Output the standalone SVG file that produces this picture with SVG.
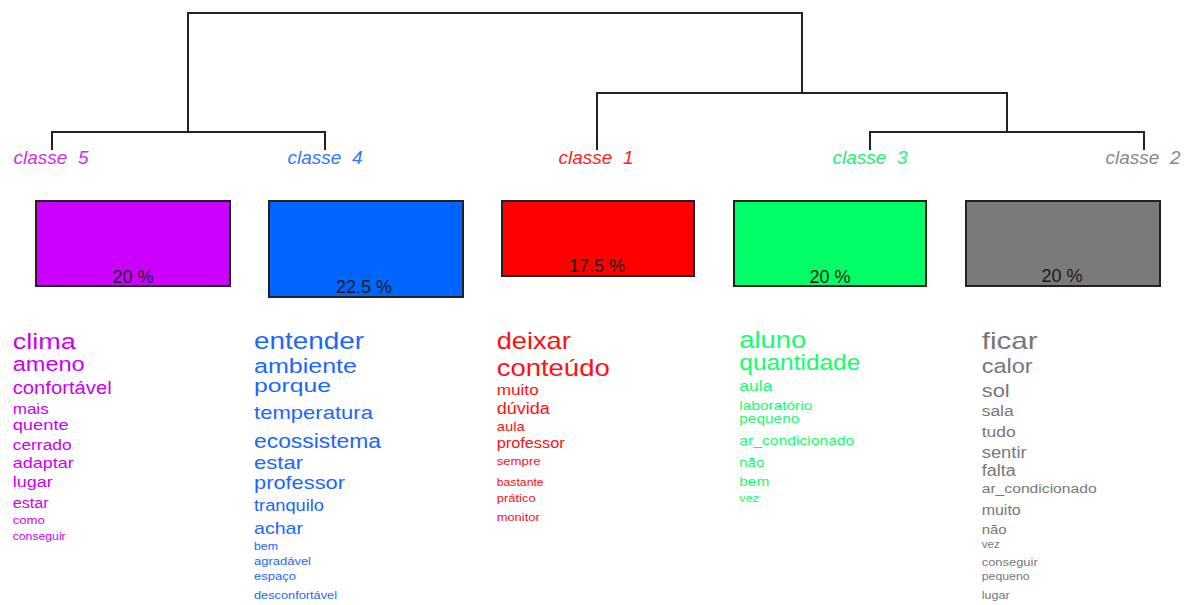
<svg xmlns="http://www.w3.org/2000/svg" width="1189" height="605" viewBox="0 0 1189 605">
<style>
text{font-family:"Liberation Sans",Arial,sans-serif}
.lbl{font-size:19px;font-style:italic;text-anchor:middle;white-space:pre}
.pct{font-size:18px;fill:#1a1a1a;text-anchor:middle}
.box{stroke:#222;stroke-width:2}
.edge{fill:none;stroke:#222;stroke-width:2}
.c5{fill:#cc00ee}.c4{fill:#1a66ff}.c1{fill:#ff1010}.c3{fill:#11ff6a}.c2{fill:#777}
</style>
<rect width="1189" height="605" fill="#fff"/>
<g id="connectors">
<path class="edge" d="M188,132 V13 H802 V93"/>
<path class="edge" d="M52,150 V132 H325 V150"/>
<path class="edge" d="M597,150 V93 H1007 V132"/>
<path class="edge" d="M870,150 V132 H1144 V150"/>
</g>
<g id="classe5">
<text class="lbl" x="51" y="164" fill="#cc33dd">classe  5</text>
<rect class="box" x="36" y="201" width="194" height="85" fill="#cc00ff"/>
<text class="pct" x="133" y="282.5">20 %</text>
<g class="c5">
<text x="12.7" y="348.5" font-size="22" textLength="63" lengthAdjust="spacingAndGlyphs">clima</text>
<text x="12.7" y="370.5" font-size="19.5" textLength="72" lengthAdjust="spacingAndGlyphs">ameno</text>
<text x="12.7" y="394" font-size="18" textLength="99" lengthAdjust="spacingAndGlyphs">confortável</text>
<text x="12.7" y="414" font-size="15" textLength="36" lengthAdjust="spacingAndGlyphs">mais</text>
<text x="12.7" y="429.5" font-size="14" textLength="56" lengthAdjust="spacingAndGlyphs">quente</text>
<text x="12.7" y="450" font-size="14" textLength="59" lengthAdjust="spacingAndGlyphs">cerrado</text>
<text x="12.7" y="468" font-size="14.5" textLength="61" lengthAdjust="spacingAndGlyphs">adaptar</text>
<text x="12.7" y="487" font-size="15.5" textLength="40" lengthAdjust="spacingAndGlyphs">lugar</text>
<text x="12.7" y="508" font-size="14" textLength="36" lengthAdjust="spacingAndGlyphs">estar</text>
<text x="12.7" y="524" font-size="11" textLength="32" lengthAdjust="spacingAndGlyphs">como</text>
<text x="12.7" y="540" font-size="10.5" textLength="53" lengthAdjust="spacingAndGlyphs">conseguir</text>
</g>
</g>
<g id="classe4">
<text class="lbl" x="325" y="164" fill="#3377ff">classe  4</text>
<rect class="box" x="269" y="201" width="194" height="96" fill="#0066ff"/>
<text class="pct" x="364" y="293">22.5 %</text>
<g class="c4">
<text x="254" y="349.3" font-size="24" textLength="110" lengthAdjust="spacingAndGlyphs">entender</text>
<text x="254" y="372.5" font-size="19.5" textLength="103" lengthAdjust="spacingAndGlyphs">ambiente</text>
<text x="254" y="392" font-size="18.5" textLength="77" lengthAdjust="spacingAndGlyphs">porque</text>
<text x="254" y="419.3" font-size="19" textLength="119" lengthAdjust="spacingAndGlyphs">temperatura</text>
<text x="254" y="447.7" font-size="20" textLength="127" lengthAdjust="spacingAndGlyphs">ecossistema</text>
<text x="254" y="469.3" font-size="19" textLength="49" lengthAdjust="spacingAndGlyphs">estar</text>
<text x="254" y="489.3" font-size="19" textLength="91" lengthAdjust="spacingAndGlyphs">professor</text>
<text x="254" y="510.7" font-size="16" textLength="70" lengthAdjust="spacingAndGlyphs">tranquilo</text>
<text x="254" y="534" font-size="17" textLength="49" lengthAdjust="spacingAndGlyphs">achar</text>
<text x="254" y="550" font-size="11" textLength="24" lengthAdjust="spacingAndGlyphs">bem</text>
<text x="254" y="565" font-size="11.3" textLength="57" lengthAdjust="spacingAndGlyphs">agradável</text>
<text x="254" y="580" font-size="11.3" textLength="42" lengthAdjust="spacingAndGlyphs">espaço</text>
<text x="254" y="599.3" font-size="11.1" textLength="83" lengthAdjust="spacingAndGlyphs">desconfortável</text>
</g>
</g>
<g id="classe1">
<text class="lbl" x="596" y="164" fill="#ff2222">classe  1</text>
<rect class="box" x="502" y="201" width="192" height="75" fill="#ff0000"/>
<text class="pct" x="597" y="272">17.5 %</text>
<g class="c1">
<text x="496.7" y="349.3" font-size="23.6" textLength="74" lengthAdjust="spacingAndGlyphs">deixar</text>
<text x="496.7" y="376" font-size="24" textLength="113" lengthAdjust="spacingAndGlyphs">conteúdo</text>
<text x="496.7" y="395" font-size="15" textLength="42" lengthAdjust="spacingAndGlyphs">muito</text>
<text x="496.7" y="414" font-size="15.6" textLength="53" lengthAdjust="spacingAndGlyphs">dúvida</text>
<text x="496.7" y="430.7" font-size="13" textLength="28" lengthAdjust="spacingAndGlyphs">aula</text>
<text x="496.7" y="448.3" font-size="14.2" textLength="68" lengthAdjust="spacingAndGlyphs">professor</text>
<text x="496.7" y="465" font-size="11.5" textLength="44" lengthAdjust="spacingAndGlyphs">sempre</text>
<text x="496.7" y="486" font-size="10.7" textLength="47" lengthAdjust="spacingAndGlyphs">bastante</text>
<text x="496.7" y="501.7" font-size="11.3" textLength="39" lengthAdjust="spacingAndGlyphs">prático</text>
<text x="496.7" y="520.7" font-size="11.2" textLength="43" lengthAdjust="spacingAndGlyphs">monitor</text>
</g>
</g>
<g id="classe3">
<text class="lbl" x="870" y="164" fill="#22ee77">classe  3</text>
<rect class="box" x="734" y="201" width="192" height="85" fill="#00ff66"/>
<text class="pct" x="830" y="282.5">20 %</text>
<g class="c3">
<text x="739.3" y="348.3" font-size="23.8" textLength="67" lengthAdjust="spacingAndGlyphs">aluno</text>
<text x="739.3" y="370" font-size="21.3" textLength="121" lengthAdjust="spacingAndGlyphs">quantidade</text>
<text x="739.3" y="390.7" font-size="15.3" textLength="33" lengthAdjust="spacingAndGlyphs">aula</text>
<text x="739.3" y="410" font-size="13.4" textLength="73" lengthAdjust="spacingAndGlyphs">laboratório</text>
<text x="739.3" y="423.3" font-size="13.4" textLength="60" lengthAdjust="spacingAndGlyphs">pequeno</text>
<text x="739.3" y="445" font-size="13.6" textLength="115" lengthAdjust="spacingAndGlyphs">ar_condicionado</text>
<text x="739.3" y="466.7" font-size="13" textLength="25" lengthAdjust="spacingAndGlyphs">não</text>
<text x="739.3" y="485.7" font-size="13.4" textLength="30" lengthAdjust="spacingAndGlyphs">bem</text>
<text x="739.3" y="501.7" font-size="11.2" textLength="20" lengthAdjust="spacingAndGlyphs">vez</text>
</g>
</g>
<g id="classe2">
<text class="lbl" x="1143" y="164" fill="#888888">classe  2</text>
<rect class="box" x="966" y="201" width="194" height="85" fill="#7a7a7a"/>
<text class="pct" x="1062" y="282">20 %</text>
<g class="c2">
<text x="981.7" y="349.3" font-size="24" textLength="56" lengthAdjust="spacingAndGlyphs">ficar</text>
<text x="981.7" y="373.3" font-size="20.5" textLength="51" lengthAdjust="spacingAndGlyphs">calor</text>
<text x="981.7" y="396.7" font-size="19" textLength="28" lengthAdjust="spacingAndGlyphs">sol</text>
<text x="981.7" y="416" font-size="15.3" textLength="32" lengthAdjust="spacingAndGlyphs">sala</text>
<text x="981.7" y="437.3" font-size="15.3" textLength="34" lengthAdjust="spacingAndGlyphs">tudo</text>
<text x="981.7" y="458.3" font-size="16" textLength="45" lengthAdjust="spacingAndGlyphs">sentir</text>
<text x="981.7" y="476" font-size="15.8" textLength="34" lengthAdjust="spacingAndGlyphs">falta</text>
<text x="981.7" y="493.3" font-size="13.6" textLength="115" lengthAdjust="spacingAndGlyphs">ar_condicionado</text>
<text x="981.7" y="515" font-size="13.9" textLength="39" lengthAdjust="spacingAndGlyphs">muito</text>
<text x="981.7" y="534.3" font-size="13" textLength="25" lengthAdjust="spacingAndGlyphs">não</text>
<text x="981.7" y="547.7" font-size="10" textLength="18" lengthAdjust="spacingAndGlyphs">vez</text>
<text x="981.7" y="566" font-size="11.2" textLength="56" lengthAdjust="spacingAndGlyphs">conseguir</text>
<text x="981.7" y="580" font-size="10.8" textLength="48" lengthAdjust="spacingAndGlyphs">pequeno</text>
<text x="981.7" y="599.3" font-size="10.9" textLength="28" lengthAdjust="spacingAndGlyphs">lugar</text>
</g>
</g>
</svg>
